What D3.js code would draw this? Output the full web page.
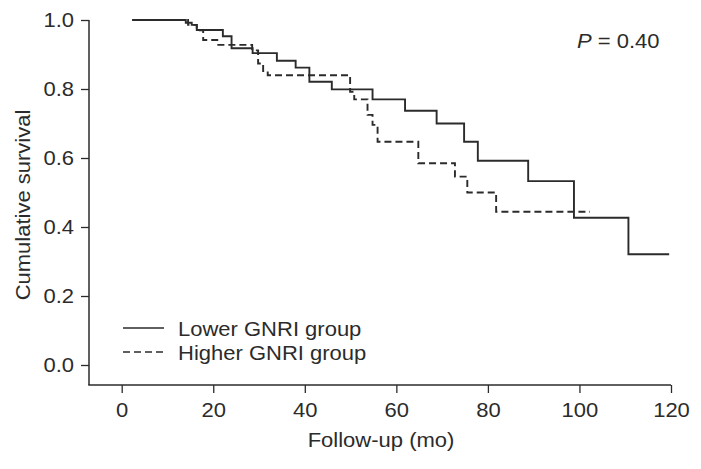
<!DOCTYPE html>
<html>
<head>
<meta charset="utf-8">
<script src="https://cdn.jsdelivr.net/npm/d3@7"></script>
<style>
  html, body { margin: 0; padding: 0; background: #fff; }
  text { font-family: Arial, "Liberation Sans", Helvetica, sans-serif; fill: #2b2b2b; }
</style>
</head>
<body>
<svg id="chart" width="701" height="469"></svg>
<script>
// Kaplan-Meier step data: time (months) at which the step begins, and survival after it
const lowerTimes = [2.3, 14.0, 15.3, 16.4, 22.1, 24.0, 28.6, 33.9, 38.0, 41.0, 45.9, 54.8, 61.9, 68.8, 74.8, 77.8, 88.8, 98.8, 110.7];
const lowerSurv  = [1.0, 0.992, 0.986, 0.971, 0.953, 0.918, 0.904, 0.882, 0.862, 0.821, 0.799, 0.770, 0.737, 0.700, 0.647, 0.592, 0.533, 0.427, 0.321];
const lowerEnd = 119.6;

const higherTimes = [2.3, 14.5, 16.4, 17.8, 21.1, 28.5, 29.8, 30.9, 31.9, 49.9, 50.8, 53.7, 54.8, 55.9, 64.8, 72.8, 75.5, 81.8];
const higherSurv  = [1.0, 0.986, 0.970, 0.942, 0.928, 0.912, 0.874, 0.852, 0.840, 0.792, 0.770, 0.725, 0.696, 0.647, 0.585, 0.546, 0.500, 0.444];
const higherEnd = 102.3;

const xTicks = [0, 20, 40, 60, 80, 100, 120];
const yTicks = [0.0, 0.2, 0.4, 0.6, 0.8, 1.0];
const seriesNames = ["Lower GNRI group", "Higher GNRI group"];
const pText = "0.40";

const svg = d3.select("#chart");
const ink = "#2b2b2b";
const FS = "20px";
const SX = 1.1; // horizontal stretch of the lettering

const x = d3.scaleLinear().domain([0, 120]).range([121.7, 671]);
const y = d3.scaleLinear().domain([0, 1]).range([365, 20]);

// axes frame lines
const axisLeftX = 89, axisBottomY = 385;
svg.append("line").attr("x1", axisLeftX).attr("x2", axisLeftX).attr("y1", y(1)).attr("y2", axisBottomY)
  .attr("stroke", ink).attr("stroke-width", 1.5);
svg.append("line").attr("x1", axisLeftX - 0.75).attr("x2", x(120)).attr("y1", axisBottomY).attr("y2", axisBottomY)
  .attr("stroke", ink).attr("stroke-width", 1.5);

// y axis
const yAxis = d3.axisLeft(y).tickValues(yTicks).tickFormat(d3.format(".1f")).tickSize(8).tickPadding(7);
const gy = svg.append("g").attr("transform", `translate(${axisLeftX},0)`).call(yAxis);
gy.select(".domain").remove();
gy.selectAll("line").attr("stroke", ink).attr("stroke-width", 1.3);
gy.selectAll("text").style("font-size", FS).attr("fill", ink)
  .attr("x", -15 / SX).attr("transform", `scale(${SX},1)`);

// x axis
const xAxis = d3.axisBottom(x).tickValues(xTicks).tickSize(8).tickPadding(10);
const gx = svg.append("g").attr("transform", `translate(0,${axisBottomY})`).call(xAxis);
gx.select(".domain").remove();
gx.selectAll("line").attr("stroke", ink).attr("stroke-width", 1.3);
gx.selectAll("text").style("font-size", FS).attr("fill", ink).attr("transform", `scale(${SX},1)`);

function addText(px, py, str, anchor, rot) {
  return svg.append("text")
    .attr("transform", `translate(${px},${py})${rot ? ` rotate(${rot})` : ""} scale(${SX},1)`)
    .attr("text-anchor", anchor || "start")
    .style("font-size", FS)
    .text(str);
}

// axis titles
addText(381, 447, "Follow-up (mo)", "middle");
addText(30, 205, "Cumulative survival", "middle", -90);

// step paths
function stepData(times, surv, end) {
  const pts = times.map((t, i) => [t, surv[i]]);
  pts.push([end, surv[surv.length - 1]]);
  return pts;
}
const line = d3.line().x(d => x(d[0])).y(d => y(d[1])).curve(d3.curveStepAfter);

svg.append("path").datum(stepData(higherTimes, higherSurv, higherEnd))
  .attr("d", line).attr("fill", "none").attr("stroke", ink).attr("stroke-width", 1.9)
  .attr("stroke-dasharray", "7,4");
svg.append("path").datum(stepData(lowerTimes, lowerSurv, lowerEnd))
  .attr("d", line).attr("fill", "none").attr("stroke", ink).attr("stroke-width", 1.9);

// legend
[0, 1].forEach(i => {
  const ly = 328 + i * 24;
  svg.append("line").attr("x1", 123).attr("x2", 164).attr("y1", ly).attr("y2", ly)
    .attr("stroke", ink).attr("stroke-width", 1.6)
    .attr("stroke-dasharray", i === 1 ? "7,4" : null);
  addText(178, ly + 8, seriesNames[i], "start");
});

// P value
const pt = addText(577, 48, "", "start");
pt.append("tspan").style("font-style", "italic").text("P");
pt.append("tspan").text(" = " + pText);
</script>
</body>
</html>
